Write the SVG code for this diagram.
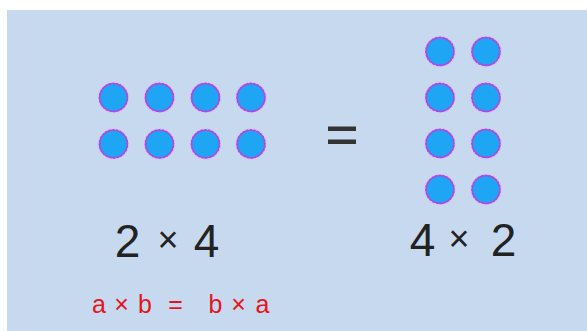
<svg xmlns="http://www.w3.org/2000/svg" width="587" height="331" viewBox="0 0 587 331">
<style>
.dot{fill:#1ea6f4;stroke:#a24fe4;stroke-width:2;}
.halo{fill:none;stroke:#e9b6f2;stroke-width:1.2;stroke-dasharray:2 2;}
.big{font-family:"Liberation Sans",Arial,sans-serif;font-size:46px;fill:#222;text-anchor:middle;}
.mul{font-family:"Liberation Sans",Arial,sans-serif;font-size:36px;fill:#222;text-anchor:middle;}
.red{font-family:"Liberation Sans",Arial,sans-serif;font-size:25px;fill:#e5141b;text-anchor:middle;}
.eq{fill:#333;}
</style>
<defs>
<g id="d"><circle class="dot" r="14"/><circle class="halo" r="15.2"/></g>
</defs>
<rect x="0" y="0" width="587" height="331" fill="#ffffff"/>
<rect x="7" y="10" width="580" height="321" fill="#c6d9ef"/>
<g id="grid-2x4">
<use href="#d" x="113.5" y="97.5"/><use href="#d" x="159.5" y="97.5"/><use href="#d" x="205.5" y="97.5"/><use href="#d" x="251" y="97.5"/>
<use href="#d" x="113.5" y="144"/><use href="#d" x="159.5" y="144"/><use href="#d" x="205.5" y="144"/><use href="#d" x="251" y="144"/>
</g>
<g id="equals">
<rect class="eq" x="328" y="126.5" width="28" height="4.5"/>
<rect class="eq" x="328" y="139.5" width="28" height="4.5"/>
</g>
<g id="grid-4x2">
<use href="#d" x="440" y="51.5"/><use href="#d" x="486" y="51.5"/>
<use href="#d" x="440" y="97.5"/><use href="#d" x="486" y="97.5"/>
<use href="#d" x="440" y="143.5"/><use href="#d" x="486" y="143.5"/>
<use href="#d" x="440" y="189.5"/><use href="#d" x="486" y="189.5"/>
</g>
<g id="label-2x4">
<text y="256.5"><tspan class="big" x="127.5">2</tspan><tspan class="mul" x="168" dy="-5">×</tspan><tspan class="big" x="206.5" dy="5">4</tspan></text>
</g>
<g id="label-4x2">
<text y="255.5"><tspan class="big" x="422.5">4</tspan><tspan class="mul" x="459" dy="-5">×</tspan><tspan class="big" x="503.5" dy="5">2</tspan></text>
</g>
<g id="rule">
<text class="red" y="313"><tspan x="99">a</tspan><tspan x="121.5">×</tspan><tspan x="145">b</tspan><tspan x="175.5">=</tspan><tspan x="215.5">b</tspan><tspan x="238.5">×</tspan><tspan x="262.5">a</tspan></text>
</g>
<g id="connectors"/>
</svg>
